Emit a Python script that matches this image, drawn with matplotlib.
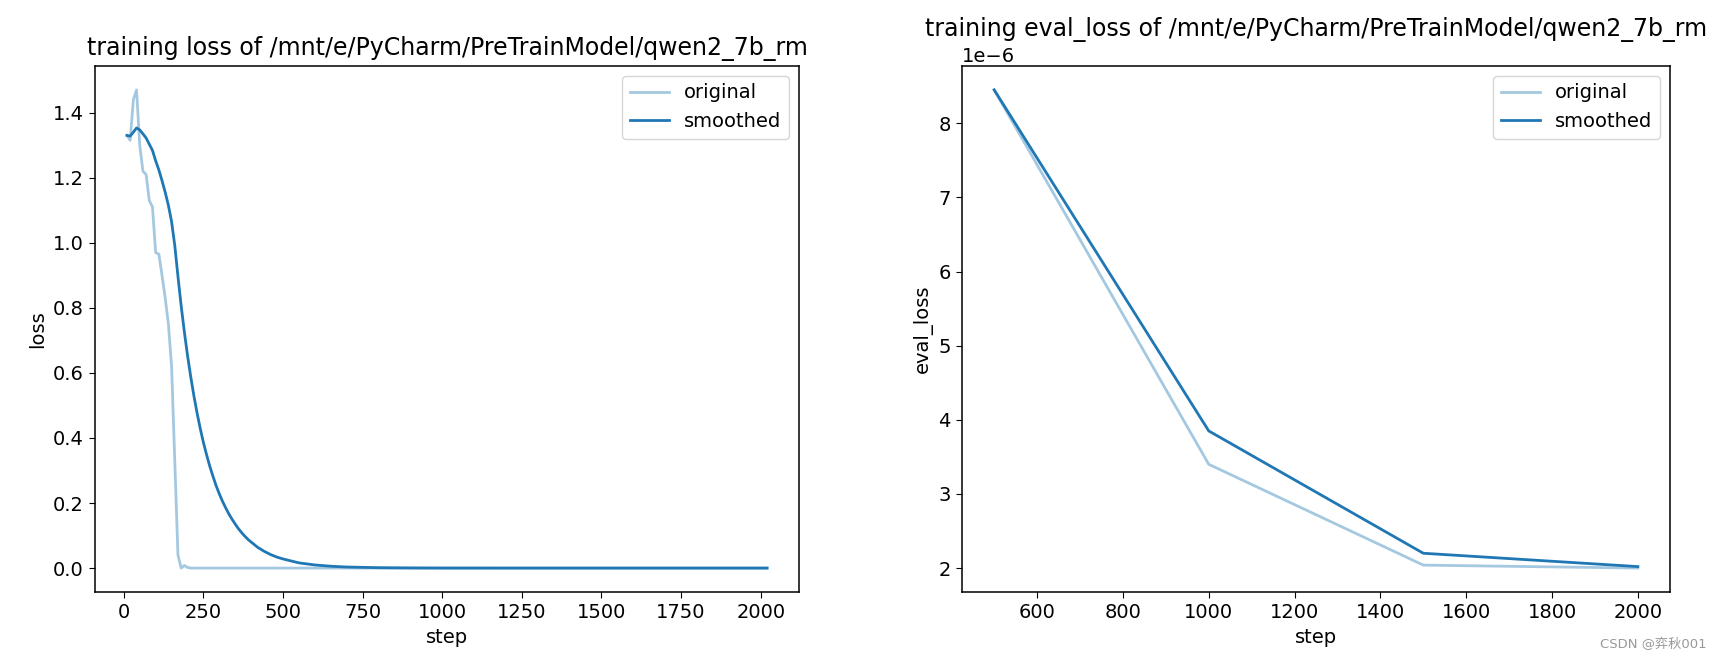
#!/usr/bin/env python3
import matplotlib
matplotlib.use('Agg')
import matplotlib.pyplot as plt

# training loss
train_steps = [10, 20, 30, 40, 50, 60, 70, 80, 90, 100,
               110, 120, 130, 140, 150, 160, 170, 180, 190, 200,
               210, 220, 230, 240, 250, 500, 1000, 1500, 2020]
train_loss = [1.33, 1.315, 1.44, 1.47, 1.30, 1.22, 1.21, 1.13, 1.11, 0.97,
              0.965, 0.90, 0.83, 0.75, 0.62, 0.33, 0.04, 0.0, 0.008, 0.002,
              0.0, 0.0, 0.0, 0.0, 0.0, 0.0, 0.0, 0.0, 0.0]

smooth_steps = [10, 20, 30, 40, 50, 60, 70, 80, 90, 100,
                110, 120, 130, 140, 150, 160, 170, 180, 190, 200,
                210, 220, 230, 240, 250, 260, 270, 280, 290, 300,
                310, 320, 330, 340, 350, 360, 370, 380, 390, 400,
                410, 420, 430, 440, 450, 460, 470, 480, 490, 500,
                550, 600, 650, 700, 800, 900, 1000, 1250, 1500, 1750, 2020]
smooth_loss = [1.330, 1.328, 1.340, 1.353, 1.347, 1.335, 1.322, 1.303, 1.284, 1.252,
               1.224, 1.191, 1.155, 1.115, 1.065, 0.992, 0.897, 0.807, 0.727, 0.654,
               0.589, 0.530, 0.477, 0.429, 0.386, 0.348, 0.313, 0.282, 0.253, 0.228,
               0.205, 0.185, 0.166, 0.150, 0.135, 0.121, 0.109, 0.098, 0.088, 0.080,
               0.072, 0.064, 0.058, 0.052, 0.047, 0.042, 0.038, 0.034, 0.031, 0.028,
               0.016, 0.0096, 0.0057, 0.0033, 0.0012, 0.0004, 0.0001, 0.0, 0.0, 0.0, 0.0]

# eval loss
eval_steps = [500, 1000, 1500, 2000]
eval_loss = [8.45e-6, 3.40e-6, 2.04e-6, 2.00e-6]
eval_smooth = [8.45e-6, 3.85e-6, 2.20e-6, 2.02e-6]

model_path = '/mnt/e/PyCharm/PreTrainModel/qwen2_7b_rm'

plt.rcParams['font.size'] = 14
plt.rcParams['lines.linewidth'] = 2.0
plt.rcParams['axes.linewidth'] = 1.1
plt.rcParams['xtick.major.size'] = 4.6
plt.rcParams['ytick.major.size'] = 4.6

fig = plt.figure(figsize=(17.24, 6.61), dpi=100)
ax1 = fig.add_axes([0.0551, 0.1044, 0.4084, 0.7958])
ax2 = fig.add_axes([0.558, 0.1044, 0.4107, 0.7958])

ax1.plot(train_steps, train_loss, color='#1f77b4', alpha=0.4, label='original')
ax1.plot(smooth_steps, smooth_loss, color='#1f77b4', label='smoothed')
ax1.legend(loc='upper right')
ax1.set_title('training loss of ' + model_path, fontsize=17, pad=8)
ax1.set_xlabel('step')
ax1.set_ylabel('loss')

ax2.plot(eval_steps, eval_loss, color='#1f77b4', alpha=0.4, label='original')
ax2.plot(eval_steps, eval_smooth, color='#1f77b4', label='smoothed')
ax2.legend(loc='upper right')
ax2.set_title('training eval_loss of ' + model_path, fontsize=17, pad=8)
ax2.set_xlabel('step')
ax2.set_ylabel('eval_loss')

fig.text(0.99, 0.015, 'CSDN @弈秋001', ha='right', va='bottom', fontsize=9.5,
         color='#999999', family=['DejaVu Sans', 'Noto Sans CJK SC'])

fig.savefig('out.png', dpi=100)
